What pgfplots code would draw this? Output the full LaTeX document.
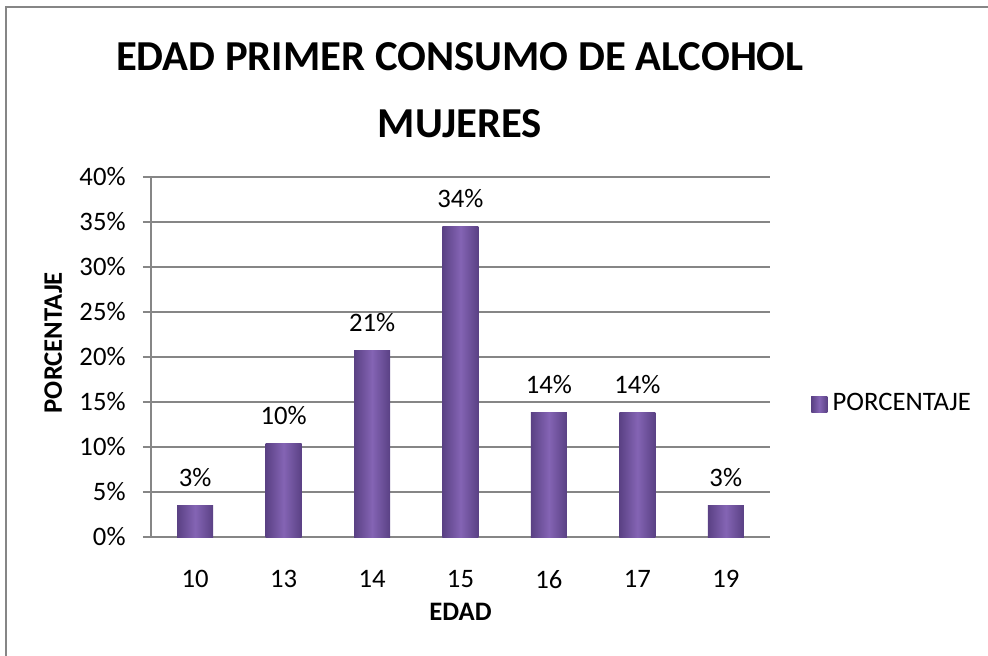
\documentclass[border=0pt]{standalone}
\usepackage{fontspec}
\setmainfont{Carlito}
\usepackage{pgfplots}
\pgfplotsset{compat=1.18}
\definecolor{gridc}{HTML}{868686}
\definecolor{barmid}{HTML}{8464B4}
\definecolor{baredge}{HTML}{5A4184}
\definecolor{legc}{HTML}{6F52A0}
\begin{document}
\begin{tikzpicture}[x=0.375pt,y=-0.375pt]
\path[use as bounding box] (0,0) rectangle (988,656);
\draw[gridc, line width=0.9pt] (6,656) -- (6,7) -- (988,7);
\node[font=\fontsize{16}{20}\selectfont\bfseries] at (460,57) {EDAD PRIMER CONSUMO DE ALCOHOL};
\node[font=\fontsize{16}{20}\selectfont\bfseries] at (460,124) {MUJERES};
\begin{axis}[
  at={(56.625pt,-201.375pt)}, anchor=south west,
  scale only axis, width=232.125pt, height=135pt,
  ymin=0, ymax=40, xmin=-0.5, xmax=6.5,
  ytick={0,5,...,40},
  yticklabel={\pgfmathprintnumber{\tick}\%},
  xtick={0,...,6}, xticklabels={10,13,14,15,16,17,19},
  /pgf/number format/assume math mode=true,
  axis x line*=bottom, axis y line*=left,
  axis line style={gridc, line width=0.9pt, -},
  ymajorgrids, grid style={gridc, line width=0.9pt},
  major tick length=3pt, tick align=outside,
  y tick style={gridc, line width=0.9pt},
  x tick style={draw=none},
  tick label style={font=\fontsize{10}{12}\selectfont, black},
  yticklabel style={xshift=-3pt},
  xticklabel style={yshift=-6pt},
  ybar, bar width=13.5pt,
  nodes near coords={\pgfplotspointmeta\%},
  point meta=explicit symbolic,
  nodes near coords style={font=\fontsize{10}{12}\selectfont, black, yshift=3.5pt},
  xlabel={\textbf{EDAD}},
  ylabel={\textbf{PORCENTAJE}},
  xlabel style={at={(axis description cs:0.5,-0.208)}, anchor=center, font=\fontsize{10}{12}\selectfont},
  ylabel style={at={(axis description cs:-0.158,0.54)}, anchor=center, font=\fontsize{10}{12}\selectfont},
  legend style={at={(axis description cs:1.053,0.369)}, anchor=west, draw=none, fill=none, font=\fontsize{10}{12}\selectfont},
  legend image code/.code={\fill[legc] (0pt,-3pt) rectangle (6pt,3pt);},
  mybar/.style={ybar, bar shift=0pt, draw=none, left color=baredge, right color=baredge, middle color=barmid},
]
\addplot[mybar] coordinates {(0,3.45) [3]};
\addplot[mybar, forget plot] coordinates {(1,10.34) [10]};
\addplot[mybar, forget plot] coordinates {(2,20.69) [21]};
\addplot[mybar, forget plot] coordinates {(3,34.48) [34]};
\addplot[mybar, forget plot] coordinates {(4,13.79) [14]};
\addplot[mybar, forget plot] coordinates {(5,13.79) [14]};
\addplot[mybar, forget plot] coordinates {(6,3.45) [3]};
\legend{PORCENTAJE}
\end{axis}
\end{tikzpicture}
\end{document}
